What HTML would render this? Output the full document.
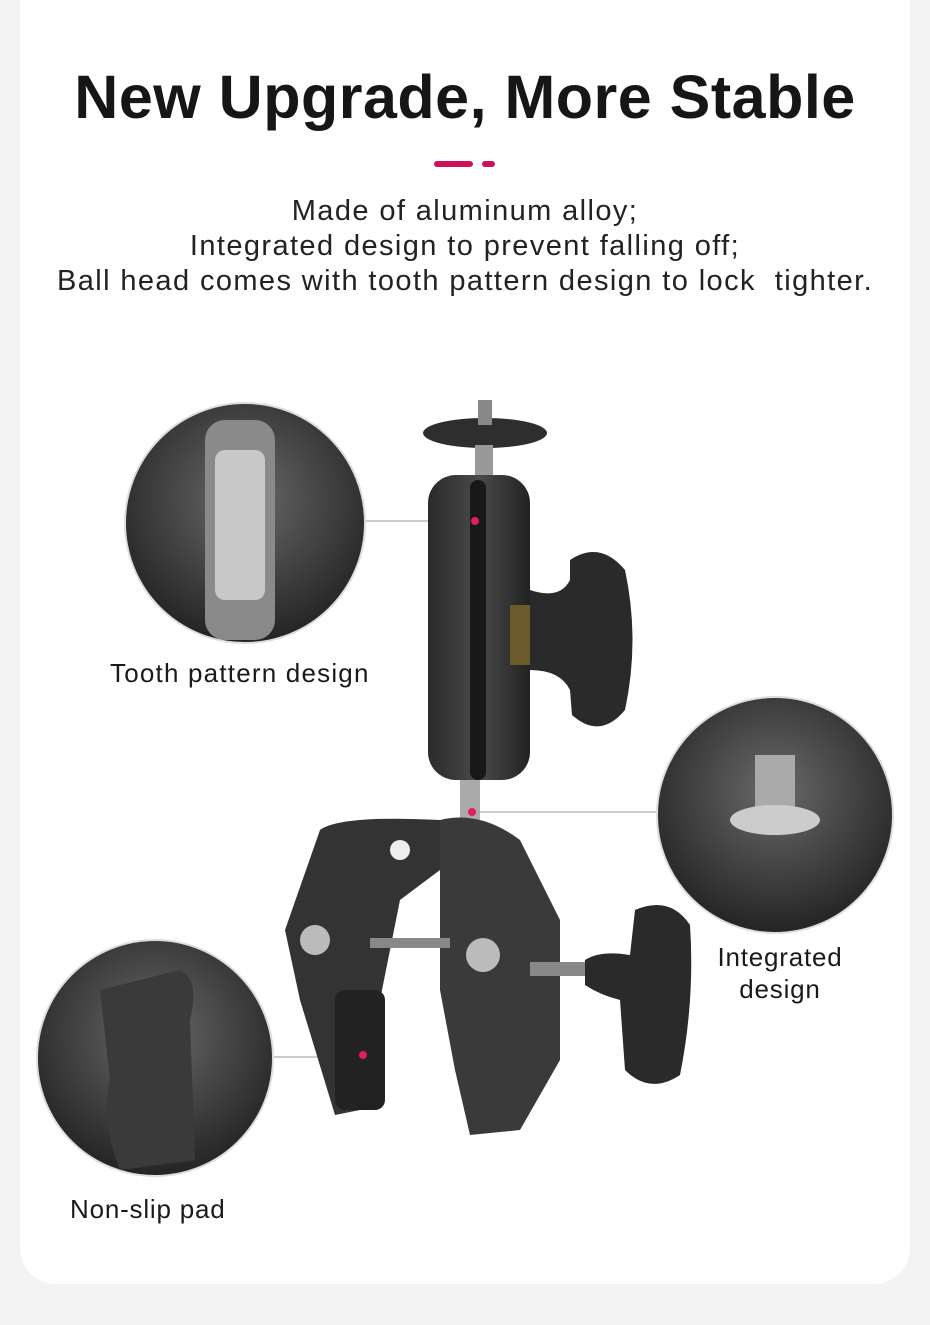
<!DOCTYPE html>
<html><head><meta charset="utf-8"><style>
html,body{margin:0;padding:0;background:#f3f3f3;}
body{width:930px;height:1325px;position:relative;overflow:hidden;font-family:"Liberation Sans",sans-serif;color:#1a1a1a;}
.card{position:absolute;left:20px;top:-40px;width:890px;height:1324px;background:#fff;border-radius:36px;}
h1{position:absolute;left:0;width:930px;top:62px;margin:0;text-align:center;font-size:61px;font-weight:bold;letter-spacing:0.5px;color:#161616;}
.sub{position:absolute;left:0;width:930px;top:194px;text-align:center;font-size:29px;letter-spacing:1.4px;line-height:35px;color:#222;white-space:nowrap;}
.lbl{position:absolute;font-size:26px;letter-spacing:0.8px;color:#1a1a1a;line-height:32px;white-space:nowrap;}
svg{position:absolute;left:0;top:0;}
</style></head><body>
<div class="card"></div>
<h1>New Upgrade, More Stable</h1>
<div class="sub">Made of aluminum alloy;<br>Integrated design to prevent falling off;<br>Ball head comes with tooth pattern design to lock&nbsp; tighter.</div>
<svg width="930" height="1325" viewBox="0 0 930 1325">
<defs>
<radialGradient id="g1" cx="50%" cy="40%" r="60%"><stop offset="0" stop-color="#6a6a6a"/><stop offset="1" stop-color="#242424"/></radialGradient>
<linearGradient id="g2" x1="0" x2="1"><stop offset="0" stop-color="#2a2a2a"/><stop offset=".5" stop-color="#4a4a4a"/><stop offset="1" stop-color="#222"/></linearGradient>
</defs>
<rect x="434" y="161" width="39" height="6" rx="3" fill="#d0105a"/>
<rect x="482" y="161" width="13" height="6" rx="3" fill="#d0105a"/>
<line x1="365" y1="521" x2="472" y2="521" stroke="#999" stroke-width="1"/>
<line x1="480" y1="812" x2="657" y2="812" stroke="#999" stroke-width="1"/>
<line x1="273" y1="1057" x2="362" y2="1057" stroke="#999" stroke-width="1"/>
<circle cx="245" cy="523" r="120" fill="url(#g1)" stroke="#ddd" stroke-width="2"/>
<rect x="205" y="420" width="70" height="220" rx="20" fill="#8a8a8a"/>
<rect x="215" y="450" width="50" height="150" rx="10" fill="#c8c8c8"/>
<circle cx="775" cy="815" r="118" fill="url(#g1)" stroke="#ddd" stroke-width="2"/>
<rect x="755" y="755" width="40" height="60" fill="#aaa"/>
<ellipse cx="775" cy="820" rx="45" ry="15" fill="#ccc"/>
<circle cx="155" cy="1058" r="118" fill="url(#g1)" stroke="#ddd" stroke-width="2"/>
<path d="M100 990 L180 970 Q200 980 190 1020 L195 1160 L120 1170 Q100 1120 110 1080 Z" fill="#3a3a3a"/>
<ellipse cx="485" cy="433" rx="62" ry="15" fill="#2e2e2e"/>
<rect x="478" y="400" width="14" height="25" fill="#888"/>
<rect x="475" y="445" width="18" height="40" fill="#999"/>
<rect x="428" y="475" width="102" height="305" rx="28" fill="url(#g2)"/>
<rect x="470" y="480" width="16" height="300" rx="8" fill="#181818"/>
<circle cx="475" cy="521" r="4" fill="#e0205a"/>
<rect x="510" y="605" width="30" height="60" fill="#6b5a2a"/>
<path d="M530 590 Q560 600 570 580 L570 560 Q600 540 625 570 Q640 640 625 710 Q600 740 572 715 L570 690 Q560 670 530 670 Z" fill="#2a2a2a"/>
<rect x="460" y="780" width="20" height="40" fill="#aaa"/>
<circle cx="472" cy="812" r="4" fill="#e0205a"/>
<path d="M320 830 Q340 815 440 820 L440 870 L400 900 L380 1000 L360 1110 L335 1115 L300 1000 L285 930 Z" fill="#333"/>
<path d="M440 820 Q480 810 520 840 L560 920 L560 1060 L520 1130 L470 1135 L455 1070 L440 990 Z" fill="#3a3a3a"/>
<rect x="335" y="990" width="50" height="120" rx="10" fill="#222"/>
<circle cx="363" cy="1055" r="4" fill="#e0205a"/>
<circle cx="315" cy="940" r="15" fill="#bbb"/>
<circle cx="483" cy="955" r="17" fill="#bbb"/>
<circle cx="400" cy="850" r="10" fill="#eee"/>
<rect x="370" y="938" width="80" height="10" fill="#888"/>
<rect x="530" y="962" width="60" height="14" fill="#888"/>
<path d="M585 960 Q600 950 630 955 L635 910 Q670 895 690 925 Q695 1000 680 1075 Q650 1095 625 1070 L620 1000 Q600 995 585 985 Z" fill="#2a2a2a"/>
</svg>
<div class="lbl" style="left:110px;top:657px;letter-spacing:1.2px;">Tooth pattern design</div>
<div class="lbl" style="left:690px;top:941px;width:180px;text-align:center;">Integrated<br>design</div>
<div class="lbl" style="left:70px;top:1193px;">Non-slip pad</div>
</body></html>
